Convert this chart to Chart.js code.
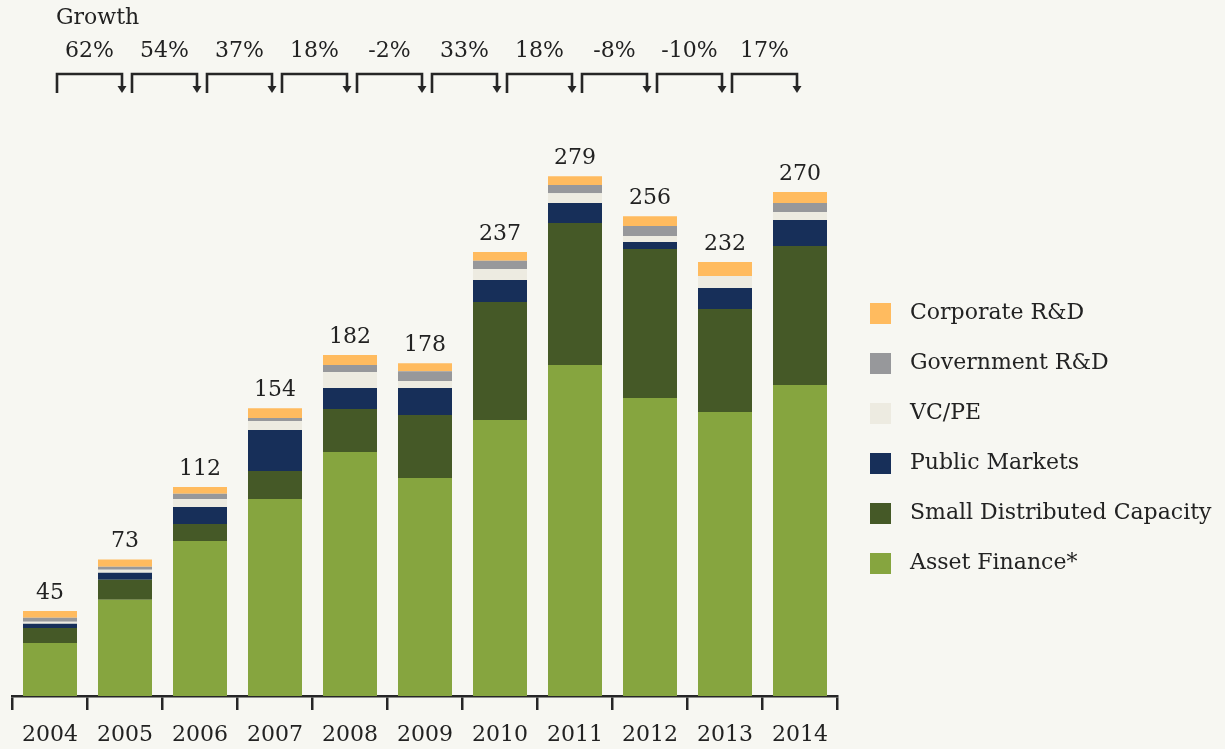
<!DOCTYPE html>
<html>
<head>
<meta charset="utf-8">
<script src="https://cdn.jsdelivr.net/npm/chart.js@4/dist/chart.umd.min.js"></script>
<style>
  html, body { margin: 0; padding: 0; background: #F7F7F2; }
  #wrap { width: 1225px; height: 749px; }
</style>
</head>
<body>
<div id="wrap"><canvas id="investChart" width="1225" height="749"></canvas></div>
<script>
// --- DATA (bottom of stack first) ---
const years = ['2004', '2005', '2006', '2007', '2008', '2009', '2010', '2011', '2012', '2013', '2014'];
const assetFinance     = [28.3, 51.5, 82.9, 105.3, 130.5, 116.6, 147.6, 177.0, 159.4, 151.9, 166.3];
const smallDistributed = [8.0, 10.7, 9.1, 15.0, 23.0, 33.7, 63.1, 75.9, 79.7, 55.1, 74.3];
const publicMarkets    = [2.3, 3.7, 9.1, 21.9, 11.2, 14.4, 11.8, 10.7, 3.7, 11.2, 13.9];
const vcPe             = [1.1, 1.6, 4.3, 4.8, 8.6, 3.7, 5.9, 5.3, 3.2, 6.4, 4.3];
const governmentRd     = [2.1, 1.6, 2.7, 1.6, 3.7, 5.3, 4.3, 4.3, 5.3, 0, 4.8];
const corporateRd      = [3.6, 3.9, 3.7, 5.3, 5.3, 4.3, 4.8, 4.8, 5.3, 7.5, 5.9];
const totals = [45, 73, 112, 154, 182, 178, 237, 279, 256, 232, 270];
const growthLabels = ['62%', '54%', '37%', '18%', '-2%', '33%', '18%', '-8%', '-10%', '17%'];

const FONT = "'DejaVu Serif', Georgia, serif";
const INK = '#222222';

// custom drawing: totals above bars, growth brackets, legend on the right
const annotations = {
    id: 'annotations',
    afterDatasetsDraw(chart) {
        const ctx = chart.ctx;
        const xs = chart.scales.x;
        const topMeta = chart.getDatasetMeta(chart.data.datasets.length - 1);
        ctx.save();
        ctx.fillStyle = INK;
        ctx.font = '22px ' + FONT;
        ctx.textAlign = 'center';
        ctx.textBaseline = 'middle';

        // totals
        totals.forEach((t, i) => {
            const bar = topMeta.data[i];
            ctx.fillText(String(t), bar.x, bar.y - 18);
        });

        // growth header
        ctx.textAlign = 'left';
        ctx.fillText('Growth', 56, 18);

        // growth brackets
        ctx.strokeStyle = '#262626';
        ctx.lineWidth = 2.6;
        growthLabels.forEach((g, i) => {
            const x1 = Math.round(xs.getPixelForValue(i)) + 7;
            const x2 = Math.round(xs.getPixelForValue(i + 1)) - 3;
            const yTop = 74, yBot = 93;
            ctx.beginPath();
            ctx.moveTo(x1, yBot);
            ctx.lineTo(x1, yTop);
            ctx.lineTo(x2, yTop);
            ctx.lineTo(x2, yBot - 6);
            ctx.stroke();
            ctx.beginPath();
            ctx.moveTo(x2 - 4.5, yBot - 7);
            ctx.lineTo(x2 + 4.5, yBot - 7);
            ctx.lineTo(x2, yBot);
            ctx.closePath();
            ctx.fillStyle = '#262626';
            ctx.fill();
            ctx.fillStyle = INK;
            ctx.textAlign = 'center';
            ctx.fillText(g, (x1 + x2) / 2, 51);
        });

        // legend (top item = top of stack)
        const ds = chart.data.datasets.slice().reverse();
        ds.forEach((d, k) => {
            const cy = 313 + k * 50;
            ctx.fillStyle = d.backgroundColor;
            ctx.fillRect(870, cy - 10, 21, 21);
            ctx.fillStyle = INK;
            ctx.textAlign = 'left';
            ctx.fillText(d.label, 910, cy);
        });
        ctx.restore();
    }
};

const ctx = document.getElementById('investChart').getContext('2d');
const investChart = new Chart(ctx, {
    type: 'bar',
    data: {
        labels: years,
        datasets: [
            { label: 'Asset Finance*', data: assetFinance, backgroundColor: '#86A53F' },
            { label: 'Small Distributed Capacity', data: smallDistributed, backgroundColor: '#455927' },
            { label: 'Public Markets', data: publicMarkets, backgroundColor: '#172F59' },
            { label: 'VC/PE', data: vcPe, backgroundColor: '#EDEBE1' },
            { label: 'Government R&D', data: governmentRd, backgroundColor: '#97989B' },
            { label: 'Corporate R&D', data: corporateRd, backgroundColor: '#FFBB5F' }
        ]
    },
    options: {
        responsive: false, animation: false, devicePixelRatio: 1,
        layout: { padding: { left: 12.5, right: 387.5, top: 135, bottom: 0 } },
        datasets: { bar: { barPercentage: 0.9, categoryPercentage: 0.8, borderWidth: 0 } },
        plugins: { legend: { display: false }, tooltip: { enabled: false } },
        scales: {
            x: {
                stacked: true,
                grid: { drawOnChartArea: false, drawTicks: true, tickLength: 14, color: '#262626', lineWidth: 2.5, offset: true },
                border: { display: true, color: '#262626', width: 2.5 },
                ticks: { color: INK, font: { family: FONT, size: 22 }, padding: 12, maxRotation: 0 },
                afterFit(scale) { scale.height = 53; }
            },
            y: { stacked: true, display: false, min: 0, max: 300 }
        }
    },
    plugins: [annotations]
});
</script>
</body>
</html>
